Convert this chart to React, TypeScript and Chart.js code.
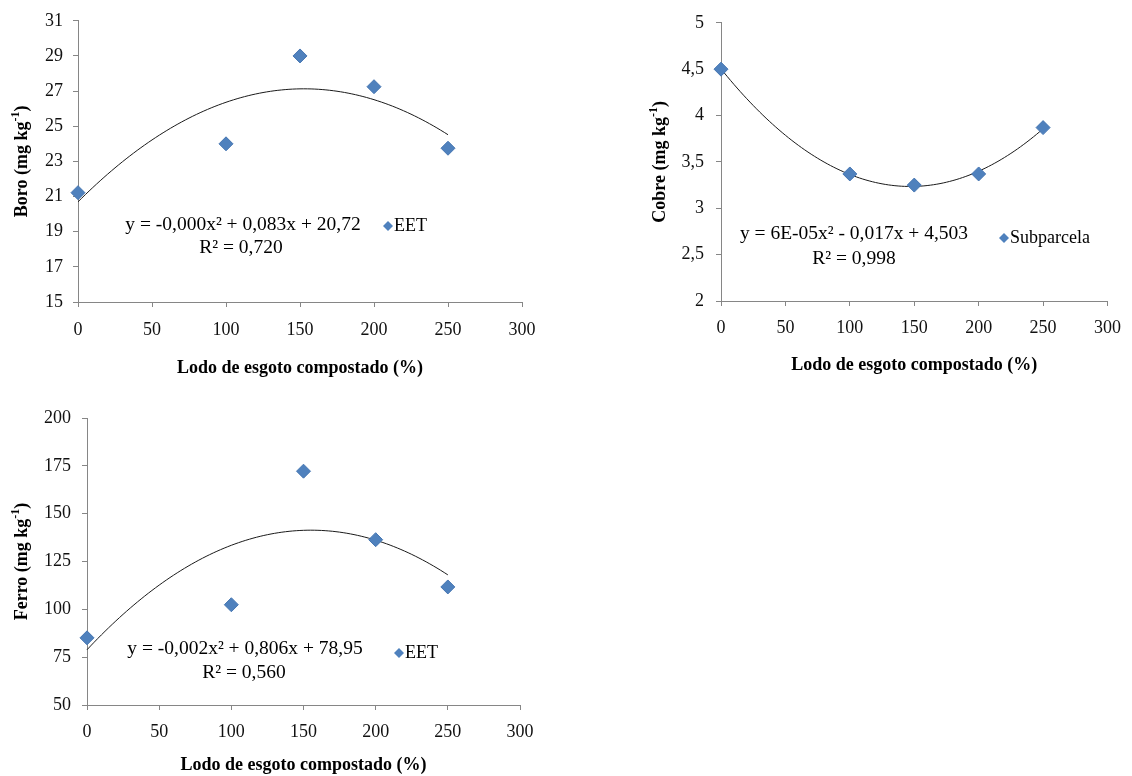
import React, { useEffect, useRef } from "react";
import { Chart, registerables } from "chart.js";

Chart.register(...registerables);

// ---------- data ----------
const doses = [0, 100, 150, 200, 250];
const boroValues = [21.22, 24.0, 29.0, 27.25, 23.75];
const cobreValues = [4.5, 3.37, 3.25, 3.37, 3.87];
const ferroValues = [85.1, 102.4, 172.2, 136.4, 111.7];

const xTickValues = [0, 50, 100, 150, 200, 250, 300];
const boroTicks = [15, 17, 19, 21, 23, 25, 27, 29, 31];
const cobreTicks = [2, 2.5, 3, 3.5, 4, 4.5, 5];
const ferroTicks = [50, 75, 100, 125, 150, 175, 200];

const xAxisTitle = "Lodo de esgoto compostado (%)";
const boroTitle = "Boro (mg kg";
const cobreTitle = "Cobre (mg kg";
const ferroTitle = "Ferro (mg kg";

const boroEquation = "y = -0,000x² + 0,083x + 20,72";
const boroR2 = "R² = 0,720";
const cobreEquation = "y = 6E-05x² - 0,017x + 4,503";
const cobreR2 = "R² = 0,998";
const ferroEquation = "y = -0,002x² + 0,806x + 78,95";
const ferroR2 = "R² = 0,560";

const boroLegend = "EET";
const cobreLegend = "Subparcela";
const ferroLegend = "EET";

// ---------- helpers ----------
const SERIF = '"Liberation Serif", "Times New Roman", serif';
const BLUE = "#4F81BD";
const AXIS = "#868686";

function quadFit(xs: number[], ys: number[]) {
  // least squares y = a x^2 + b x + c
  let s0 = 0, s1 = 0, s2 = 0, s3 = 0, s4 = 0, t0 = 0, t1 = 0, t2 = 0;
  xs.forEach((x, i) => {
    const y = ys[i];
    s0 += 1; s1 += x; s2 += x * x; s3 += x * x * x; s4 += x * x * x * x;
    t0 += y; t1 += x * y; t2 += x * x * y;
  });
  const M = [
    [s4, s3, s2, t2],
    [s3, s2, s1, t1],
    [s2, s1, s0, t0],
  ];
  for (let i = 0; i < 3; i++) {
    for (let j = i + 1; j < 3; j++) {
      const f = M[j][i] / M[i][i];
      for (let k = i; k < 4; k++) M[j][k] -= f * M[i][k];
    }
  }
  const sol = [0, 0, 0];
  for (let i = 2; i >= 0; i--) {
    let s = M[i][3];
    for (let k = i + 1; k < 3; k++) s -= M[i][k] * sol[k];
    sol[i] = s / M[i][i];
  }
  const [a, b, c] = sol;
  return (x: number) => a * x * x + b * x + c;
}

type Spec = {
  values: number[];
  yTicks: number[];
  yTitle: string;
  equation: string;
  r2: string;
  legend: string;
  width: number;
  height: number;
  top: number;
  right: number;
  yWidth: number;
  xHeight: number;
  xTitlePad: number;
  xTickPad: number;
  yTickPad: number;
  yTitleX: number;
  eqX: number;
  eqY: number;
  r2X: number;
  r2Y: number;
  legX: number;
  legY: number;
};

function overlayPlugin(spec: Spec) {
  return {
    id: "overlay",
    afterDraw(chart: any) {
      const ctx = chart.ctx as CanvasRenderingContext2D;
      const area = chart.chartArea;
      ctx.save();
      // y axis title with superscript
      ctx.translate(spec.yTitleX, (area.top + area.bottom) / 2);
      ctx.rotate(-Math.PI / 2);
      ctx.fillStyle = "#000";
      ctx.textBaseline = "middle";
      ctx.textAlign = "left";
      const mainFont = `bold 18px ${SERIF}`;
      const supFont = `bold 12px ${SERIF}`;
      ctx.font = mainFont;
      const w1 = ctx.measureText(spec.yTitle).width;
      const w3 = ctx.measureText(")").width;
      ctx.font = supFont;
      const w2 = ctx.measureText("-1").width;
      let x0 = -(w1 + w2 + w3) / 2;
      ctx.font = mainFont;
      ctx.fillText(spec.yTitle, x0, 0);
      x0 += w1;
      ctx.font = supFont;
      ctx.fillText("-1", x0, -6);
      x0 += w2;
      ctx.font = mainFont;
      ctx.fillText(")", x0, 0);
      ctx.restore();

      // equation
      ctx.save();
      ctx.fillStyle = "#000";
      ctx.textBaseline = "middle";
      ctx.textAlign = "center";
      ctx.font = `19.5px ${SERIF}`;
      ctx.fillText(spec.equation, spec.eqX, spec.eqY);
      ctx.fillText(spec.r2, spec.r2X, spec.r2Y);

      // legend
      const r = 5;
      ctx.fillStyle = BLUE;
      ctx.beginPath();
      ctx.moveTo(spec.legX - r, spec.legY);
      ctx.lineTo(spec.legX, spec.legY - r);
      ctx.lineTo(spec.legX + r, spec.legY);
      ctx.lineTo(spec.legX, spec.legY + r);
      ctx.closePath();
      ctx.fill();
      ctx.fillStyle = "#000";
      ctx.textAlign = "left";
      ctx.font = `18px ${SERIF}`;
      ctx.fillText(spec.legend, spec.legX + r + 1, spec.legY);
      ctx.restore();
    },
  };
}

function buildConfig(spec: Spec): any {
  const fit = quadFit(doses, spec.values);
  const trend: { x: number; y: number }[] = [];
  const xStart = doses[0];
  const xEnd = doses[doses.length - 1];
  for (let x = xStart; x <= xEnd + 1e-9; x += 2.5) trend.push({ x, y: fit(x) });
  const yMin = spec.yTicks[0];
  const yMax = spec.yTicks[spec.yTicks.length - 1];
  const tickFont = { family: SERIF, size: 18 };
  return {
    type: "scatter",
    data: {
      datasets: [
        {
          label: spec.legend,
          data: doses.map((d, i) => ({ x: d, y: spec.values[i] })),
          pointStyle: "rectRot",
          pointRadius: 7,
          pointHoverRadius: 7,
          backgroundColor: BLUE,
          borderColor: "#4676B2",
          borderWidth: 1,
          clip: false,
          order: 0,
        },
        {
          type: "line",
          label: "trend",
          data: trend,
          borderColor: "#1a1a1a",
          borderWidth: 1,
          pointRadius: 0,
          fill: false,
          tension: 0,
          clip: false,
          order: 1,
        },
      ],
    },
    options: {
      animation: false,
      responsive: false,
      events: [],
      layout: { padding: { left: 0, top: spec.top, right: spec.right, bottom: 0 } },
      plugins: { legend: { display: false }, tooltip: { enabled: false } },
      scales: {
        x: {
          type: "linear",
          min: xTickValues[0],
          max: xTickValues[xTickValues.length - 1],
          afterBuildTicks: (s: any) => {
            s.ticks = xTickValues.map((v) => ({ value: v }));
          },
          afterFit: (s: any) => {
            s.height = spec.xHeight;
          },
          grid: { drawOnChartArea: false, color: AXIS, tickLength: 5 },
          border: { color: AXIS, width: 1 },
          ticks: { font: tickFont, color: "#111", padding: spec.xTickPad, maxRotation: 0 },
          title: {
            display: true,
            text: xAxisTitle,
            color: "#000",
            font: { family: SERIF, size: 18, weight: "bold" },
            padding: { top: 0, bottom: spec.xTitlePad },
          },
        },
        y: {
          type: "linear",
          min: yMin,
          max: yMax,
          afterBuildTicks: (s: any) => {
            s.ticks = spec.yTicks.map((v) => ({ value: v }));
          },
          afterFit: (s: any) => {
            s.width = spec.yWidth;
          },
          grid: { drawOnChartArea: false, color: AXIS, tickLength: 5 },
          border: { color: AXIS, width: 1 },
          ticks: {
            font: tickFont,
            color: "#111",
            padding: spec.yTickPad,
            callback: (v: any) => String(v).replace(".", ","),
          },
        },
      },
    },
    plugins: [overlayPlugin(spec)],
  };
}

const boroSpec: Spec = {
  values: boroValues, yTicks: boroTicks, yTitle: boroTitle,
  equation: boroEquation, r2: boroR2, legend: boroLegend,
  width: 566, height: 390, top: 20, right: 44, yWidth: 78, xHeight: 88,
  xTitlePad: 11, xTickPad: 12, yTickPad: 10, yTitleX: 22,
  eqX: 243, eqY: 225, r2X: 241, r2Y: 248, legX: 388, legY: 226,
};

const cobreSpec: Spec = {
  values: cobreValues, yTicks: cobreTicks, yTitle: cobreTitle,
  equation: cobreEquation, r2: cobreR2, legend: cobreLegend,
  width: 566, height: 390, top: 19, right: 17, yWidth: 155, xHeight: 89,
  xTitlePad: 14, xTickPad: 11, yTickPad: 12, yTitleX: 94,
  eqX: 288, eqY: 234, r2X: 288, r2Y: 259, legX: 438, legY: 238,
};

const ferroSpec: Spec = {
  values: ferroValues, yTicks: ferroTicks, yTitle: ferroTitle,
  equation: ferroEquation, r2: ferroR2, legend: ferroLegend,
  width: 566, height: 386, top: 28, right: 46, yWidth: 87, xHeight: 71,
  xTitlePad: 0, xTickPad: 11, yTickPad: 11, yTitleX: 22,
  eqX: 245, eqY: 259, r2X: 244, r2Y: 283, legX: 399, legY: 263,
};

function Panel({ spec, left, top }: { spec: Spec; left: number; top: number }) {
  const ref = useRef<HTMLCanvasElement | null>(null);
  useEffect(() => {
    if (!ref.current) return;
    const chart = new Chart(ref.current, buildConfig(spec));
    return () => chart.destroy();
  }, [spec]);
  return (
    <canvas
      ref={ref}
      width={spec.width}
      height={spec.height}
      style={{ position: "absolute", left, top, width: spec.width, height: spec.height }}
    />
  );
}

export default function App() {
  return (
    <div style={{ position: "absolute", left: 0, top: 0, width: 1132, height: 776, background: "#fff", overflow: "hidden" }}>
      <Panel spec={boroSpec} left={0} top={0} />
      <Panel spec={cobreSpec} left={566} top={0} />
      <Panel spec={ferroSpec} left={0} top={390} />
    </div>
  );
}
